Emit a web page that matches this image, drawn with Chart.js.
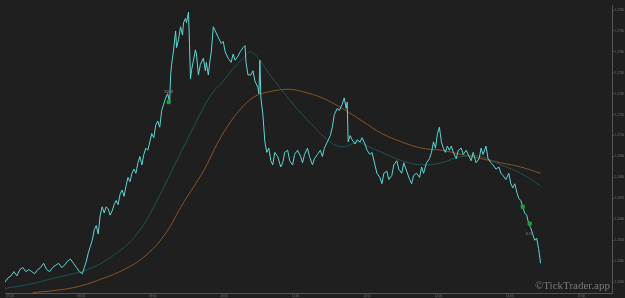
<!DOCTYPE html>
<html>
<head>
<meta charset="utf-8">
<script src="https://cdn.jsdelivr.net/npm/chart.js@4.4.1/dist/chart.umd.min.js"></script>
<style>
  html, body { margin: 0; padding: 0; background: #1f1f1f; overflow: hidden; }
  canvas { display: block; }
</style>
</head>
<body>
<canvas id="graficoPrecio" width="625" height="298"></canvas>
<script>
// eje x: numero de barra (1 barra = 50 s), marcas cada hora
const barrasHora = [0, 72, 144, 216, 288, 360, 432, 504, 576];
const horas = ['07:00', '08:00', '09:00', '10:00', '11:00', '12:00', '13:00', '14:00', '15:00'];
const nivelesPrecio = [1.2630, 1.2640, 1.2650, 1.2660, 1.2670, 1.2680, 1.2690, 1.2700, 1.2710, 1.2720, 1.2730, 1.2740, 1.2750, 1.2760];

// precio
const barras = [-5, -2, 1, 4, 7, 10, 13, 16, 19, 22, 25, 28, 31, 34, 37, 40, 43, 46, 49, 52, 55, 58, 61, 64, 67, 70, 73, 75, 77, 79, 81, 83, 85, 87, 89, 91, 93, 95, 97, 99, 101, 103, 105, 107, 109, 111, 113, 115, 117, 119, 121, 123, 125, 127, 129, 131, 133, 135, 137, 139, 141, 143, 145, 147, 149, 151, 153, 155, 157, 159, 161, 162, 163, 165, 167, 168, 170, 172, 174, 175, 177, 178, 180, 181, 182, 183, 185, 187, 188, 190, 192, 195, 197, 198, 200, 202, 203, 205, 207, 210, 213, 215, 217, 220, 223, 225, 227, 230, 232, 235, 237, 238, 240, 243, 245, 247, 250, 251, 252, 253, 255, 257, 259, 261, 263, 265, 267, 270, 273, 275, 277, 280, 282, 285, 287, 290, 293, 295, 297, 300, 302, 305, 307, 310, 313, 315, 317, 320, 323, 325, 327, 330, 332, 335, 337, 339, 340, 341, 343, 345, 348, 350, 353, 355, 358, 360, 363, 365, 368, 370, 373, 375, 377, 380, 382, 385, 387, 390, 392, 395, 397, 400, 403, 405, 407, 410, 413, 415, 417, 420, 423, 425, 427, 429, 431, 433, 435, 437, 439, 441, 443, 445, 447, 450, 452, 455, 457, 460, 463, 465, 467, 470, 473, 475, 477, 480, 482, 485, 487, 490, 493, 495, 497, 500, 503, 505, 507, 509, 511, 513, 515, 517, 519, 521, 523, 525, 527, 529, 531, 533, 535];
const precio = [1.2630, 1.2632, 1.2633, 1.2635, 1.2633, 1.2636, 1.2637, 1.2635, 1.2636, 1.2635, 1.2634, 1.2636, 1.2637, 1.2639, 1.2636, 1.2635, 1.2637, 1.2638, 1.2639, 1.2637, 1.2638, 1.2640, 1.2641, 1.2639, 1.2637, 1.2635, 1.2634, 1.2637, 1.2640, 1.2644, 1.2647, 1.2650, 1.2655, 1.2657, 1.2653, 1.2662, 1.2666, 1.2663, 1.2666, 1.2665, 1.2662, 1.2664, 1.2667, 1.2669, 1.2667, 1.2672, 1.2674, 1.2671, 1.2676, 1.2680, 1.2678, 1.2682, 1.2684, 1.2682, 1.2687, 1.2690, 1.2686, 1.2691, 1.2694, 1.2693, 1.2697, 1.2701, 1.2699, 1.2705, 1.2707, 1.2704, 1.2712, 1.2715, 1.2718, 1.2720, 1.2716, 1.2729, 1.2734, 1.2741, 1.2750, 1.2742, 1.2746, 1.2752, 1.2748, 1.2754, 1.2756, 1.2754, 1.2759, 1.2744, 1.2727, 1.2731, 1.2736, 1.2741, 1.2739, 1.2729, 1.2734, 1.2737, 1.2731, 1.2735, 1.2729, 1.2737, 1.2740, 1.2752, 1.2750, 1.2747, 1.2744, 1.2745, 1.2740, 1.2737, 1.2735, 1.2739, 1.2736, 1.2738, 1.2740, 1.2742, 1.2743, 1.2735, 1.2729, 1.2729, 1.2731, 1.2726, 1.2723, 1.2720, 1.2736, 1.2718, 1.2710, 1.2697, 1.2692, 1.2694, 1.2688, 1.2686, 1.2692, 1.2690, 1.2685, 1.2687, 1.2692, 1.2693, 1.2688, 1.2686, 1.2691, 1.2693, 1.2690, 1.2687, 1.2691, 1.2694, 1.2690, 1.2686, 1.2689, 1.2691, 1.2693, 1.2690, 1.2694, 1.2697, 1.2700, 1.2704, 1.2710, 1.2713, 1.2712, 1.2715, 1.2718, 1.2713, 1.2716, 1.2697, 1.2700, 1.2698, 1.2696, 1.2698, 1.2697, 1.2699, 1.2696, 1.2693, 1.2691, 1.2692, 1.2686, 1.2682, 1.2680, 1.2677, 1.2682, 1.2683, 1.2679, 1.2681, 1.2686, 1.2688, 1.2684, 1.2682, 1.2687, 1.2683, 1.2679, 1.2677, 1.2681, 1.2682, 1.2680, 1.2685, 1.2682, 1.2687, 1.2689, 1.2692, 1.2697, 1.2694, 1.2701, 1.2704, 1.2697, 1.2694, 1.2692, 1.2695, 1.2693, 1.2695, 1.2692, 1.2689, 1.2693, 1.2694, 1.2691, 1.2693, 1.2690, 1.2688, 1.2692, 1.2687, 1.2689, 1.2694, 1.2691, 1.2695, 1.2689, 1.2687, 1.2686, 1.2684, 1.2685, 1.2682, 1.2681, 1.2679, 1.2682, 1.2677, 1.2675, 1.2677, 1.2673, 1.2670, 1.2669, 1.2666, 1.2663, 1.2662, 1.2658, 1.2656, 1.2653, 1.2650, 1.2651, 1.2646, 1.2639];

// media rapida (verde azulado)
const barrasMediaRapida = [-5, 20, 45, 78, 105, 128, 145, 165, 185, 197, 205, 215, 225, 235, 243, 252, 262, 272, 282, 295, 307, 320, 330, 340, 350, 360, 375, 395, 415, 435, 455, 475, 495, 515, 535];
const mediaRapida = [1.2627, 1.2629, 1.2632, 1.2636, 1.2643, 1.2653, 1.2666, 1.2685, 1.2704, 1.2715, 1.2721, 1.2726, 1.2732, 1.2737, 1.2740, 1.2736, 1.2729, 1.2723, 1.2717, 1.2710, 1.2704, 1.2698, 1.2695, 1.2695, 1.2697, 1.2695, 1.2692, 1.2688, 1.2686, 1.2687, 1.2690, 1.2690, 1.2686, 1.2682, 1.2676];

// media lenta (naranja)
const barrasMediaLenta = [23, 45, 70, 95, 115, 135, 155, 175, 195, 210, 223, 235, 248, 262, 275, 285, 295, 315, 335, 355, 375, 395, 415, 435, 455, 475, 495, 515, 535];
const mediaLenta = [1.2625, 1.2626, 1.2628, 1.2632, 1.2636, 1.2642, 1.2652, 1.2668, 1.2683, 1.2697, 1.2707, 1.2714, 1.2719, 1.2721, 1.2722, 1.2722, 1.2721, 1.2718, 1.2713, 1.2707, 1.2701, 1.2697, 1.2694, 1.2693, 1.2691, 1.2689, 1.2687, 1.2685, 1.2682];

// senales
const barrasSenal = [160, 517, 524];
const precioSenal = [1.2716, 1.2666, 1.2658];
const textosSenal = [
  { barra: 160, precio: 1.2721, texto: '52.8' },
  { barra: 523, precio: 1.2653, texto: '2.0' }
];

function puntos(xs, ys) {
  return xs.map((x, i) => ({ x: x, y: ys[i] }));
}

// textos encima del grafico
const textosPlugin = {
  id: 'textos',
  afterDatasetsDraw(chart) {
    const c = chart.ctx;
    const sx = chart.scales.x;
    const sy = chart.scales.y;
    c.save();
    c.fillStyle = '#8a8a8a';
    c.font = '4px "DejaVu Sans"';
    c.textAlign = 'center';
    c.textBaseline = 'middle';
    textosSenal.forEach(t => {
      c.fillText(t.texto, sx.getPixelForValue(t.barra), sy.getPixelForValue(t.precio));
    });
    c.fillStyle = '#7a7a7a';
    c.font = '11px "Liberation Serif"';
    c.textAlign = 'right';
    c.textBaseline = 'alphabetic';
    c.fillText('\u00A9TickTrader.app', chart.chartArea.right - 2, chart.chartArea.bottom - 4);
    c.restore();
  }
};

const ctx = document.getElementById('graficoPrecio').getContext('2d');
const grafico = new Chart(ctx, {
  type: 'line',
  data: {
    datasets: [{
      label: 'Senales',
      type: 'scatter',
      order: -1,
      data: puntos(barrasSenal, precioSenal),
      pointStyle: 'rect',
      pointRadius: 2.2,
      pointBackgroundColor: '#22a03e',
      pointBorderColor: '#22a03e',
      pointBorderWidth: 1
    }, {
      label: 'Precio',
      data: puntos(barras, precio),
      borderColor: '#5fd6d4',
      borderWidth: 1,
      pointRadius: 0,
      tension: 0
    }, {
      label: 'Media rapida',
      data: puntos(barrasMediaRapida, mediaRapida),
      borderColor: '#1d5453',
      borderWidth: 1,
      pointRadius: 0,
      tension: 0.4
    }, {
      label: 'Media lenta',
      data: puntos(barrasMediaLenta, mediaLenta),
      borderColor: '#8c5424',
      borderWidth: 1,
      pointRadius: 0,
      tension: 0.4
    }]
  },
  options: {
    responsive: false,
    animation: false,
    layout: { padding: 0 },
    plugins: {
      legend: { display: false },
      tooltip: { enabled: false }
    },
    scales: {
      x: {
        type: 'linear',
        min: -5,
        max: 607,
        afterBuildTicks: s => { s.ticks = barrasHora.map(v => ({ value: v })); },
        afterFit: s => { s.height = 5; },
        ticks: {
          color: '#777',
          font: { size: 3 },
          padding: 0,
          maxRotation: 0,
          autoSkip: false,
          callback: (v, i) => horas[i]
        },
        grid: { display: true, drawOnChartArea: false, drawTicks: true, tickLength: 1, color: '#555' },
        border: { display: true, color: '#555' }
      },
      y: {
        position: 'right',
        min: 1.26248,
        max: 1.27624,
        afterBuildTicks: s => { s.ticks = nivelesPrecio.map(v => ({ value: v })); },
        afterFit: s => { s.width = 13; },
        ticks: {
          color: '#777',
          font: { size: 3 },
          padding: 1,
          autoSkip: false,
          callback: v => v.toFixed(4)
        },
        grid: { display: true, drawOnChartArea: false, drawTicks: true, tickLength: 2, color: '#555' },
        border: { display: true, color: '#555' }
      }
    }
  },
  plugins: [textosPlugin]
});
</script>
</body>
</html>
